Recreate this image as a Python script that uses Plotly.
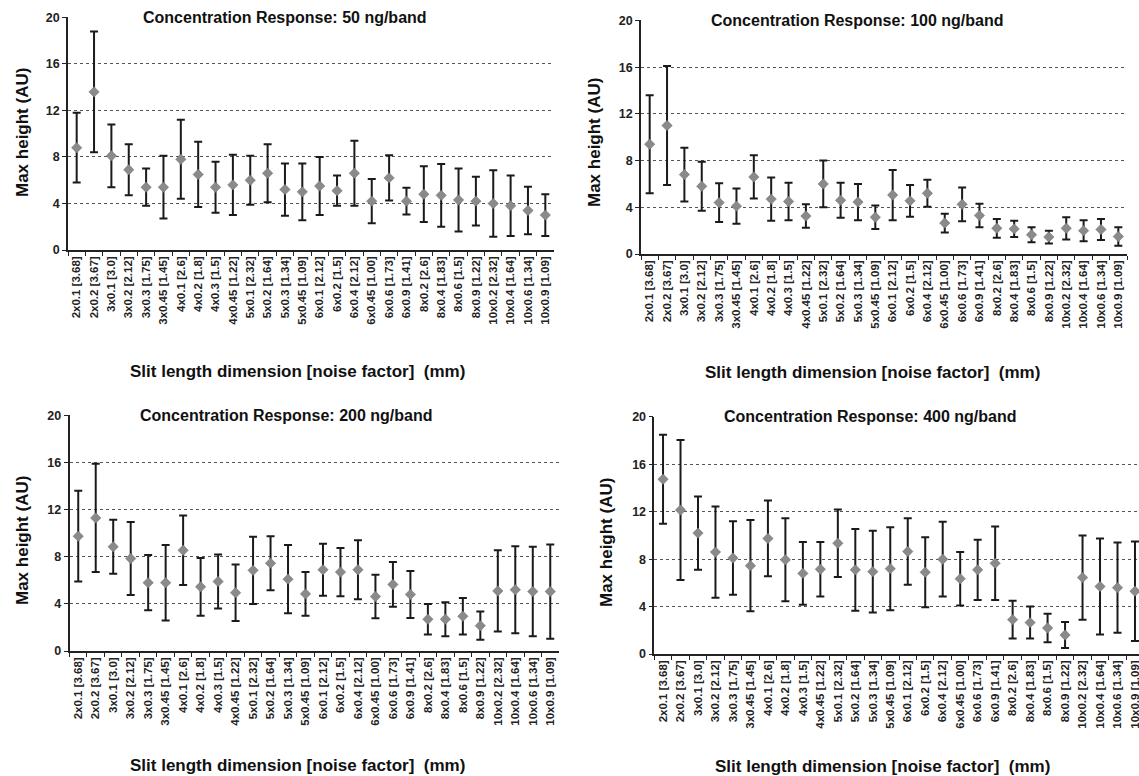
import plotly.graph_objects as go

categories = ["2x0.1 [3.68]", "2x0.2 [3.67]", "3x0.1 [3.0]", "3x0.2 [2.12]", "3x0.3 [1.75]",
              "3x0.45 [1.45]", "4x0.1 [2.6]", "4x0.2 [1.8]", "4x0.3 [1.5]", "4x0.45 [1.22]",
              "5x0.1 [2.32]", "5x0.2 [1.64]", "5x0.3 [1.34]", "5x0.45 [1.09]", "6x0.1 [2.12]",
              "6x0.2 [1.5]", "6x0.4 [2.12]", "6x0.45 [1.00]", "6x0.6 [1.73]", "6x0.9 [1.41]",
              "8x0.2 [2.6]", "8x0.4 [1.83]", "8x0.6 [1.5]", "8x0.9 [1.22]", "10x0.2 [2.32]",
              "10x0.4 [1.64]", "10x0.6 [1.34]", "10x0.9 [1.09]"]

mean_50 = [8.8, 13.6, 8.1, 6.9, 5.4, 5.4, 7.8, 6.5, 5.4, 5.6, 6.0, 6.6, 5.2, 5.0, 5.5,
           5.1, 6.6, 4.2, 6.2, 4.2, 4.8, 4.7, 4.3, 4.2, 4.0, 3.8, 3.4, 3.0]
sd_50 = [3.0, 5.2, 2.7, 2.2, 1.6, 2.7, 3.4, 2.8, 2.2, 2.6, 2.1, 2.5, 2.25, 2.45, 2.5,
         1.3, 2.8, 1.9, 1.95, 1.15, 2.4, 2.7, 2.7, 2.1, 2.85, 2.6, 2.05, 1.8]

mean_100 = [9.4, 11.0, 6.8, 5.8, 4.4, 4.1, 6.6, 4.7, 4.5, 3.25, 6.0, 4.6, 4.45, 3.15, 5.05,
            4.55, 5.2, 2.65, 4.25, 3.3, 2.2, 2.15, 1.65, 1.45, 2.2, 2.0, 2.1, 1.5]
sd_100 = [4.2, 5.1, 2.3, 2.1, 1.65, 1.5, 1.85, 1.85, 1.6, 1.0, 2.0, 1.5, 1.55, 1.0, 2.15,
          1.35, 1.15, 0.8, 1.45, 1.0, 0.8, 0.7, 0.65, 0.55, 0.95, 0.9, 0.9, 0.8]

mean_200 = [9.75, 11.3, 8.85, 7.85, 5.8, 5.8, 8.55, 5.45, 5.9, 4.95, 6.85, 7.45, 6.1, 4.85,
            6.9, 6.7, 6.9, 4.63, 5.65, 4.8, 2.7, 2.7, 2.95, 2.15, 5.1, 5.2, 5.05, 5.05]
sd_200 = [3.85, 4.6, 2.3, 3.1, 2.35, 3.2, 2.95, 2.45, 2.3, 2.4, 2.85, 2.3, 2.9, 1.85,
          2.2, 2.05, 2.5, 1.85, 1.9, 2.0, 1.3, 1.45, 1.55, 1.2, 3.45, 3.7, 3.8, 4.0]

mean_400 = [14.75, 12.15, 10.2, 8.6, 8.1, 7.45, 9.75, 7.95, 6.8, 7.15, 9.35, 7.1, 6.95, 7.2,
            8.65, 6.9, 8.0, 6.35, 7.1, 7.65, 2.9, 2.65, 2.2, 1.6, 6.45, 5.7, 5.6, 5.3]
sd_400 = [3.75, 5.9, 3.1, 3.85, 3.1, 3.85, 3.2, 3.5, 2.65, 2.3, 2.85, 3.45, 3.45, 3.5,
          2.8, 2.95, 3.15, 2.25, 2.55, 3.1, 1.6, 1.35, 1.2, 1.1, 3.55, 4.05, 3.8, 4.2]

titles = ["Concentration Response: 50 ng/band", "Concentration Response: 100 ng/band",
          "Concentration Response: 200 ng/band", "Concentration Response: 400 ng/band"]
y_title = "Max height (AU)"
x_title = "Slit length dimension [noise factor]  (mm)"
y_ticks = [0, 4, 8, 12, 16, 20]

W, H = 1139, 776
FONT = "Liberation Sans, Arial, sans-serif"

series = [(mean_50, sd_50), (mean_100, sd_100), (mean_200, sd_200), (mean_400, sd_400)]

# pixel geometry: (x_left, x_right, y_bottom(0), y_top(20), x_range_max)
geom = [
    (68, 554, 250, 17, 27.5),
    (641, 1127, 254, 20, 27.5),
    (69.5, 559, 651, 415, 27.5),
    (654.3, 1139, 654, 416.5, 27.23),
]
title_pos = [(285, 17), (857, 20), (286, 415), (870, 416.5)]
xtitle_pos = [(297, 371), (872, 372), (297, 765), (882, 766)]
ytitle_pos = [(22, 133), (594, 143), (22, 541), (606, 543)]

fig = go.Figure()
annotations = []
for i, ((m, s), g) in enumerate(zip(series, geom)):
    n = "" if i == 0 else str(i + 1)
    fig.add_trace(go.Scatter(
        x=categories, y=m, mode="markers",
        marker=dict(symbol="diamond", size=8, color="#8a8a8a",
                    line=dict(color="#6e6e6e", width=0.5)),
        error_y=dict(type="data", array=s, symmetric=True, color="#1a1a1a",
                     thickness=2, width=4),
        xaxis="x" + n, yaxis="y" + n, cliponaxis=False, showlegend=False,
    ))
    xl, xr, yb, yt, xmax = g
    fig.layout["xaxis" + n] = dict(
        domain=[xl / W, xr / W], anchor="y" + n, type="category",
        range=[-0.5, xmax], showline=True, linecolor="#222", linewidth=1.5,
        ticks="outside", ticklen=4, tickcolor="#222", tickson="boundaries",
        tickangle=-90, automargin=False,
        tickfont=dict(family=FONT, size=11.5, color="#222", weight="bold"),
        showgrid=False, zeroline=False, fixedrange=True,
    )
    fig.layout["yaxis" + n] = dict(
        domain=[1 - yb / H, 1 - yt / H], anchor="x" + n, range=[0, 20.04],
        tickvals=y_ticks, showline=True, linecolor="#222", linewidth=1.5,
        ticks="outside", ticklen=4, tickcolor="#222", automargin=False,
        tickfont=dict(family=FONT, size=12.5, color="#222", weight="bold"),
        showgrid=True, gridcolor="#555", griddash="dot", gridwidth=1,
        zeroline=False, fixedrange=True,
    )
    tx, ty = title_pos[i]
    annotations.append(dict(
        text=titles[i], x=tx / W, y=20, xref="paper", yref="y" + n,
        xanchor="center", yanchor="middle", showarrow=False, bgcolor="white",
        borderpad=1, font=dict(family=FONT, size=16, color="#111", weight="bold"),
    ))
    ax, ay = xtitle_pos[i]
    annotations.append(dict(
        text=x_title, x=ax / W, y=1 - ay / H, xref="paper", yref="paper",
        xanchor="center", yanchor="middle", showarrow=False,
        font=dict(family=FONT, size=17, color="#111", weight="bold"),
    ))
    yx, yy = ytitle_pos[i]
    annotations.append(dict(
        text=y_title, x=yx / W, y=1 - yy / H, xref="paper", yref="paper",
        xanchor="center", yanchor="middle", showarrow=False, textangle=-90,
        font=dict(family=FONT, size=17, color="#111", weight="bold"),
    ))

fig.update_layout(
    width=W, height=H, margin=dict(l=0, r=0, t=0, b=0, autoexpand=False),
    paper_bgcolor="white", plot_bgcolor="white", annotations=annotations,
    font=dict(family=FONT, color="#222"),
)
fig.write_html("out.html", config={"displayModeBar": False},
               post_script="document.body.style.margin='0';document.body.style.padding='0';")
